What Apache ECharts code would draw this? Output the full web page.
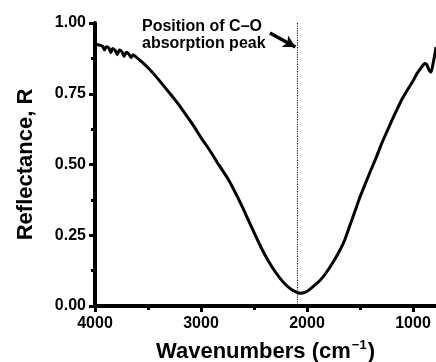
<!DOCTYPE html>
<html>
<head>
<meta charset="utf-8">
<script src="https://cdn.jsdelivr.net/npm/echarts@6/dist/echarts.min.js"></script>
<style>
html,body{margin:0;padding:0;background:#fff;}
#chart{width:436px;height:362px;}
</style>
</head>
<body>
<div id="chart"></div>
<script>
// spectrum
var wavenumbers = [4000,3960,3930,3910,3895,3870,3850,3835,3810,3790,3770,3745,3725,3705,3680,3660,3640,3600,
  3550,3500,3450,3400,3350,3300,3250,3200,3150,3100,3050,3000,2950,2900,2850,2800,2750,2700,2650,2600,2550,2500,
  2450,2400,2350,2300,2250,2200,2150,2100,2060,2020,1980,1940,1900,1850,1800,1750,1700,1650,1600,1550,1500,1450,
  1400,1350,1300,1250,1200,1150,1100,1050,1000,960,920,890,870,850,830,810,790,783];
var reflectance = [0.925,0.922,0.918,0.905,0.916,0.912,0.895,0.910,0.903,0.888,0.905,0.898,0.882,0.897,0.890,0.878,0.888,0.876,
  0.860,0.842,0.822,0.800,0.777,0.754,0.731,0.706,0.680,0.653,0.625,0.595,0.568,0.540,0.509,0.481,0.452,0.418,0.381,0.342,0.301,0.260,
  0.220,0.183,0.150,0.121,0.096,0.075,0.059,0.049,0.045,0.048,0.057,0.069,0.082,0.102,0.128,0.157,0.190,0.228,0.280,0.332,0.385,0.432,
  0.478,0.522,0.570,0.613,0.655,0.695,0.733,0.765,0.795,0.823,0.843,0.857,0.853,0.835,0.826,0.858,0.898,0.915];

var xMajorTicks = [4000,3000,2000,1000];
var xMinorTicks = [3500,2500,1500];
var peakPosition = 2095;
var arrowStart = [2350,0.965];
var arrowEnd = [2110,0.915];
var annotation = 'Position of C\u2013O\nabsorption peak';

var seriesData = [];
for (var i = 0; i < wavenumbers.length; i++) {
  seriesData.push([wavenumbers[i], reflectance[i]]);
}

var FONT = '"Liberation Sans", Arial, Helvetica, sans-serif';

var myChart = echarts.init(document.getElementById('chart'));
myChart.setOption({
  animation: false,
  textStyle: {fontFamily: FONT},
  grid: {
    left: 95, right: 0, top: 23, bottom: 56,
    containLabel: false,
    outerBoundsMode: 'none'
  },
  xAxis: [
    {
      type: 'value',
      inverse: true,
      min: 783,
      max: 4000,
      name: 'Wavenumbers (cm{sup|\u22121})',
      nameLocation: 'middle',
      nameGap: 33,
      nameTextStyle: {
        fontFamily: FONT, fontSize: 22, fontWeight: 'bold', color: '#000',
        rich: {
          sup: {fontFamily: FONT, fontSize: 13, fontWeight: 'bold', color: '#000', verticalAlign: 'top', padding: [0, 1, 12, 1]}
        }
      },
      axisLine: {lineStyle: {color: '#000', width: 4}},
      axisTick: {customValues: xMajorTicks, length: 6, lineStyle: {color: '#000', width: 3}},
      axisLabel: {
        customValues: xMajorTicks,
        margin: 10,
        formatter: function (v) { return String(v); },
        fontFamily: FONT, fontSize: 16, fontWeight: 'bold', color: '#000'
      },
      splitLine: {show: false}
    },
    {
      // minor ticks only
      type: 'value',
      inverse: true,
      position: 'bottom',
      min: 783,
      max: 4000,
      axisLine: {show: false},
      axisTick: {customValues: xMinorTicks, length: 4, lineStyle: {color: '#000', width: 3}},
      axisLabel: {show: false},
      splitLine: {show: false}
    }
  ],
  yAxis: {
    type: 'value',
    min: 0,
    max: 1,
    interval: 0.25,
    name: 'Reflectance, R',
    nameLocation: 'middle',
    nameGap: 58,
    nameTextStyle: {fontFamily: FONT, fontSize: 22, fontWeight: 'bold', color: '#000'},
    axisLine: {show: true, lineStyle: {color: '#000', width: 4}},
    axisTick: {show: true, length: 6, lineStyle: {color: '#000', width: 3}},
    minorTick: {show: true, splitNumber: 2, length: 4, lineStyle: {color: '#000', width: 3}},
    axisLabel: {
      margin: 9,
      formatter: function (v) { return v.toFixed(2); },
      fontFamily: FONT, fontSize: 16, fontWeight: 'bold', color: '#000'
    },
    splitLine: {show: false}
  },
  series: [
    {
      type: 'line',
      data: seriesData,
      showSymbol: false,
      smooth: 0.2,
      lineStyle: {color: '#000', width: 3},
      markLine: {
        silent: true,
        animation: false,
        label: {show: false},
        data: [
          [
            {coord: [peakPosition, 1], symbol: 'none', lineStyle: {type: 'dotted', width: 1.2, color: '#222'}},
            {coord: [peakPosition, 0], symbol: 'none'}
          ],
          [
            {coord: arrowStart, symbol: 'none', lineStyle: {type: 'solid', width: 3.5, color: '#000'}},
            {coord: arrowEnd, symbol: 'arrow', symbolSize: [10, 12]}
          ]
        ]
      }
    }
  ],
  graphic: [
    {
      type: 'text',
      left: 142,
      top: 18,
      style: {
        text: annotation,
        font: 'bold 16px ' + FONT,
        lineHeight: 17,
        fill: '#000'
      }
    }
  ]
});

window.addEventListener('resize', function () {
  myChart.resize();
});
</script>
</body>
</html>
